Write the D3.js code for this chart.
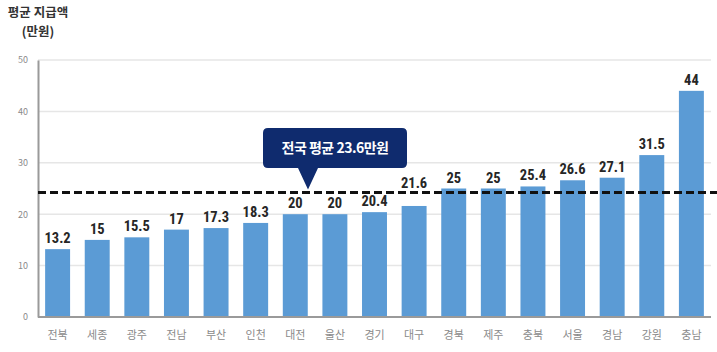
<!DOCTYPE html>
<html><head><meta charset="utf-8">
<script src="https://cdn.jsdelivr.net/npm/d3@7"></script>
<style>body{margin:0;background:#fff}svg{display:block}</style>
</head><body>
<script>
const categories = ["전북","세종","광주","전남","부산","인천","대전","울산","경기","대구","경북","제주","충북","서울","경남","강원","충남"];
const values = [13.2,15,15.5,17,17.3,18.3,20,20,20.4,21.6,25,25,25.4,26.6,27.1,31.5,44];
const labels = ["13.2","15","15.5","17","17.3","18.3","20","20","20.4","21.6","25","25","25.4","26.6","27.1","31.5","44"];
const yTicks = [0,10,20,30,40,50];
const average = 23.6;          // stated national average
const averageLineLevel = 24.2; // level where the dashed line is drawn in the picture
const avgText = "전국 평균 23.6만원";
const titleLines = ["평균 지급액","(만원)"];

const W=717,H=352;
const svg=d3.select("body").append("svg").attr("width",W).attr("height",H);
const x=d3.scaleBand().domain(categories).range([38,711]).paddingInner(0.37).paddingOuter(0.18);
const y=d3.scaleLinear().domain([0,50]).range([317,60]);
const font="'Noto Sans CJK KR','Noto Sans',sans-serif";

// gridlines
svg.append("g").selectAll("line").data(yTicks.filter(d=>d>0)).join("line")
 .attr("x1",38).attr("x2",711).attr("y1",d=>y(d)).attr("y2",d=>y(d))
 .attr("stroke","#e6e6e6").attr("stroke-width",1.5);

// y axis
const ya=svg.append("g").attr("transform","translate(38,0)").call(d3.axisLeft(y).tickValues(yTicks).tickSize(0).tickPadding(10));
ya.select(".domain").attr("stroke","#9a9a9a").attr("stroke-width",2);
ya.selectAll("text").attr("fill","#8a8a8a").attr("font-size",9).attr("font-family",font);

// bars
svg.append("g").selectAll("rect").data(values).join("rect")
 .attr("x",(d,i)=>x(categories[i])).attr("width",x.bandwidth())
 .attr("y",d=>y(d)).attr("height",d=>y(0)-y(d)).attr("fill","#5b9bd5");

// x axis
const xa=svg.append("g").attr("transform","translate(0,317)").call(d3.axisBottom(x).tickSize(0).tickPadding(14));
xa.select(".domain").attr("stroke","#9a9a9a").attr("stroke-width",2).attr("d","M38,0H711");
xa.selectAll("text").attr("fill","#8a8a8a").attr("font-size",11).attr("font-family",font);

// value labels (lifted above the average line when they would collide with it)
const lineY=y(averageLineLevel);
svg.append("g").selectAll("text").data(values).join("text")
 .attr("x",(d,i)=>x(categories[i])+x.bandwidth()/2)
 .attr("y",d=>{let b=y(d)-6; if(b-11<lineY && b>lineY-2) b=lineY-5; return b;})
 .attr("text-anchor","middle").attr("font-size",14.5).attr("font-weight","bold")
 .attr("font-family","'Liberation Sans Narrow','Roboto Condensed','Noto Sans',sans-serif")
 .attr("fill","#262626").text((d,i)=>labels[i]);

// average line
svg.append("line").attr("x1",38).attr("x2",717).attr("y1",lineY).attr("y2",lineY)
 .attr("stroke","#111").attr("stroke-width",3).attr("stroke-dasharray","8,4");

// callout
const bx=263,bw=144,by=128,bh=40,px=308,py=lineY-3;
svg.append("path").attr("d",`M${bx+5},${by}H${bx+bw-5}Q${bx+bw},${by} ${bx+bw},${by+5}V${by+bh-5}Q${bx+bw},${by+bh} ${bx+bw-5},${by+bh}H${px+10}L${px},${py}L${px-10},${by+bh}H${bx+5}Q${bx},${by+bh} ${bx},${by+bh-5}V${by+5}Q${bx},${by} ${bx+5},${by}Z`)
 .attr("fill","#0f2b6e");
svg.append("text").attr("x",bx+bw/2).attr("y",by+bh/2+5).attr("text-anchor","middle")
 .attr("fill","#fff").attr("font-size",14).attr("font-weight","bold").attr("font-family",font)
 .attr("letter-spacing",-0.5).text(avgText);

// title
svg.append("g").selectAll("text").data(titleLines).join("text")
 .attr("x",38).attr("y",(d,i)=>17+i*19).attr("text-anchor","middle")
 .attr("font-size",12.5).attr("font-weight","bold").attr("fill","#333").attr("font-family",font).text(d=>d);
</script>
</body></html>
